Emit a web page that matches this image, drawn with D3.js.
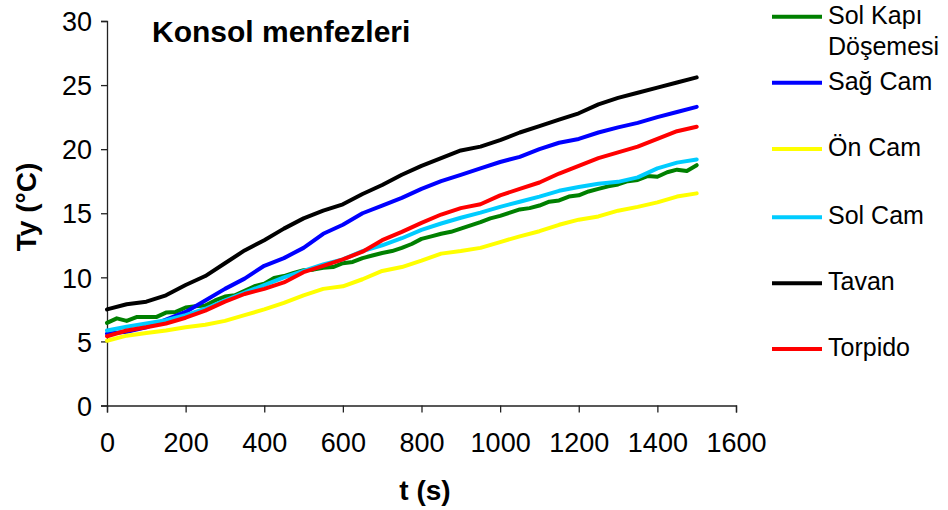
<!DOCTYPE html>
<html>
<head>
<meta charset="utf-8">
<script src="https://cdn.jsdelivr.net/npm/d3@7"></script>
<style>
  html, body { margin: 0; padding: 0; background: #fff; }
  svg { display: block; font-family: "Liberation Sans", Arial, sans-serif; }
</style>
</head>
<body>
<svg id="chart" width="948" height="510"></svg>
<script>
// Time axis (s), sampled every 50 s
const times = [0, 50, 100, 150, 200, 250, 300, 350, 400, 450, 500, 550, 600, 650, 700, 750,
               800, 850, 900, 950, 1000, 1050, 1100, 1150, 1200, 1250, 1300, 1350, 1400, 1450, 1500];
// The door-panel probe is logged every 25 s
const timesFine = [0, 25, 50, 75, 100, 125, 150, 175, 200, 225, 250, 275, 300, 325, 350, 375, 400, 425,
                   450, 475, 500, 525, 550, 575, 600, 625, 650, 675, 700, 725, 750, 775, 800, 825, 850,
                   875, 900, 925, 950, 975, 1000, 1025, 1050, 1075, 1100, 1125, 1150, 1175, 1200, 1225,
                   1250, 1275, 1300, 1325, 1350, 1375, 1400, 1425, 1450, 1475, 1500];

// Measured temperatures Ty (°C) at each vent location
const solKapiDosemesi = [6.45, 6.8, 6.6, 6.9, 6.9, 6.9, 7.25, 7.3, 7.65, 7.75, 7.8, 8.2, 8.5, 8.6, 8.95, 9.3,
                         9.5, 9.95, 10.1, 10.35, 10.55, 10.6, 10.75, 10.8, 11.1, 11.2, 11.5, 11.7, 11.9, 12.05,
                         12.3, 12.6, 13.0, 13.2, 13.4, 13.55, 13.8, 14.05, 14.3, 14.6, 14.8, 15.05, 15.3, 15.4,
                         15.6, 15.9, 16.0, 16.3, 16.4, 16.7, 16.9, 17.1, 17.25, 17.5, 17.6, 17.9, 17.85, 18.2,
                         18.4, 18.3, 18.75];
const sagCam = [5.6, 5.75, 6.1, 6.7, 7.3, 8.2, 9.1, 9.9, 10.9, 11.5, 12.3, 13.4, 14.1, 15.0, 15.6, 16.2,
                16.9, 17.5, 18.0, 18.5, 19.0, 19.4, 20.0, 20.5, 20.8, 21.3, 21.7, 22.05, 22.5, 22.9, 23.3];
const onCam = [5.05, 5.45, 5.65, 5.85, 6.1, 6.3, 6.6, 7.05, 7.5, 8.0, 8.6, 9.1, 9.3, 9.85, 10.5, 10.8,
               11.3, 11.85, 12.05, 12.3, 12.75, 13.2, 13.6, 14.1, 14.5, 14.75, 15.2, 15.5, 15.85, 16.3, 16.55];
const solCam = [5.85, 6.15, 6.4, 6.65, 7.05, 7.55, 8.2, 8.8, 9.4, 10.0, 10.5, 11.0, 11.4, 12.05, 12.5, 13.05,
                13.7, 14.2, 14.65, 15.05, 15.5, 15.9, 16.3, 16.75, 17.05, 17.3, 17.45, 17.8, 18.5, 18.95, 19.2];
const tavan = [7.5, 7.9, 8.1, 8.6, 9.4, 10.1, 11.1, 12.1, 12.9, 13.8, 14.6, 15.2, 15.7, 16.5, 17.2, 18.0,
               18.7, 19.3, 19.9, 20.2, 20.7, 21.3, 21.8, 22.3, 22.8, 23.5, 24.0, 24.4, 24.8, 25.2, 25.6];
const torpido = [5.4, 5.85, 6.1, 6.4, 6.85, 7.4, 8.1, 8.7, 9.1, 9.6, 10.4, 10.9, 11.4, 12.0, 12.9, 13.55,
                 14.25, 14.9, 15.4, 15.7, 16.4, 16.9, 17.4, 18.1, 18.7, 19.3, 19.75, 20.2, 20.8, 21.4, 21.75];

const seriesNames = ["Sol Kapı Döşemesi", "Sağ Cam", "Ön Cam", "Sol Cam", "Tavan", "Torpido"];
const seriesValues = [solKapiDosemesi, sagCam, onCam, solCam, tavan, torpido];
const seriesTimes = [timesFine, times, times, times, times, times];
const seriesColors = ["#008000", "#0000ff", "#ffff00", "#00ccff", "#000000", "#ff0000"];

const xTicks = [0, 200, 400, 600, 800, 1000, 1200, 1400, 1600];
const yTicks = [0, 5, 10, 15, 20, 25, 30];

const svg = d3.select("#chart");

const x = d3.scaleLinear().domain([0, 1600]).range([107, 736]);
const y = d3.scaleLinear().domain([0, 30]).range([405.5, 21]);

// Axes
const xAxis = d3.axisBottom(x).tickValues(xTicks).tickSize(7).tickPadding(20).tickFormat(d3.format("d"));
const yAxis = d3.axisLeft(y).tickValues(yTicks).tickSize(6).tickPadding(9).tickFormat(d3.format("d"));

const gx = svg.append("g").attr("transform", `translate(0,${y(0)})`).call(xAxis);
const gy = svg.append("g").attr("transform", `translate(${x(0)},0)`).call(yAxis);

[gx, gy].forEach(g => {
  g.select(".domain").attr("stroke", "#222").attr("stroke-width", 1.3);
  g.selectAll(".tick line").attr("stroke", "#222").attr("stroke-width", 1.3);
  g.selectAll(".tick text")
    .attr("fill", "#000")
    .style("font-family", "'Liberation Sans', Arial, sans-serif")
    .style("font-size", "27px");
});
gy.selectAll(".tick text").attr("dy", "0.36em");

// Lines
seriesValues.forEach((vals, k) => {
  const ts = seriesTimes[k];
  const line = d3.line()
    .x((d, i) => x(ts[i]))
    .y(d => y(d));
  svg.append("path")
    .datum(vals)
    .attr("fill", "none")
    .attr("stroke", seriesColors[k])
    .attr("stroke-width", 4)
    .attr("stroke-linejoin", "round")
    .attr("stroke-linecap", "round")
    .attr("d", line);
});

// Title inside plot
svg.append("text")
  .attr("x", 152).attr("y", 42)
  .style("font-size", "30px").style("font-weight", "bold")
  .text("Konsol menfezleri");

// Axis titles
svg.append("text")
  .attr("x", 425).attr("y", 500)
  .attr("text-anchor", "middle")
  .style("font-size", "28px").style("font-weight", "bold")
  .text("t (s)");

svg.append("text")
  .attr("transform", "translate(36,207) rotate(-90)")
  .attr("text-anchor", "middle")
  .style("font-size", "28px").style("font-weight", "bold")
  .text("Ty (°C)");

// Legend
const legendY = [16.7, 82.7, 149, 217.3, 283.3, 349];
const legend = svg.append("g");
seriesNames.forEach((name, k) => {
  const g = legend.append("g").attr("transform", `translate(0,${legendY[k]})`);
  g.append("line")
    .attr("x1", 772).attr("x2", 822).attr("y1", 0).attr("y2", 0)
    .attr("stroke", seriesColors[k]).attr("stroke-width", 4);
  const t = g.append("text").attr("x", 828).attr("y", 7).style("font-size", "25px");
  if (name === "Sol Kapı Döşemesi") {
    t.append("tspan").attr("x", 828).text("Sol Kapı");
    t.append("tspan").attr("x", 828).attr("dy", 31.5).text("Döşemesi");
  } else {
    t.text(name);
  }
});
</script>
</body>
</html>
